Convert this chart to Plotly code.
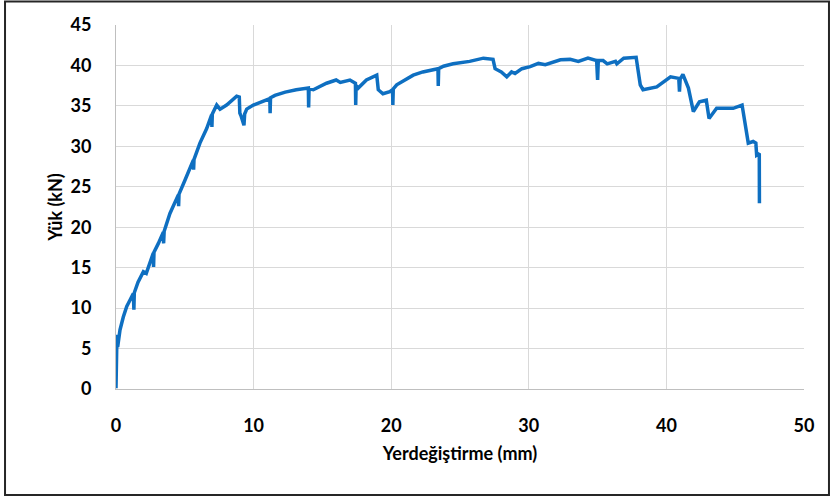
import plotly.graph_objects as go

# Displacement (mm) and load (kN)
displacement = [0.0, 0.02, 0.07, 0.12, 0.29, 0.53, 0.78, 1.02, 1.26, 1.3, 1.33, 1.6, 1.99, 2.2, 2.45,
                2.71, 2.73, 2.76, 3.08, 3.44, 3.46, 3.5, 3.92, 4.2, 4.53, 4.55, 4.58, 5.01, 5.3, 5.62,
                5.64, 5.67, 6.1, 6.59, 6.95, 6.97, 7.0, 7.32, 7.56, 8.04, 8.4, 8.77, 8.96, 9.0, 9.1,
                9.3, 9.35, 9.5, 9.98, 10.7, 11.18, 11.2, 11.23, 11.55, 12.3, 13.1, 13.98, 14.0, 14.03,
                14.34, 15.3, 16.0, 16.3, 17.0, 17.4, 17.42, 17.45, 17.6, 18.2, 18.95, 19.06, 19.4,
                19.9, 20.1, 20.12, 20.15, 20.4, 21.6, 22.3, 23.4, 23.42, 23.45, 23.8, 24.5, 25.7,
                26.7, 27.4, 27.55, 28.0, 28.4, 28.75, 29.0, 29.5, 30.1, 30.7, 31.2, 32.3, 33.0, 33.6,
                34.3, 34.93, 35.0, 35.05, 35.4, 35.7, 36.3, 36.4, 36.9, 37.8, 38.1, 38.3, 39.0, 39.3,
                40.3, 40.9, 40.95, 41.0, 41.2, 41.6, 41.96, 42.4, 42.9, 43.1, 43.65, 44.4, 44.85,
                45.5, 45.95, 46.3, 46.5, 46.56, 46.75, 46.76]
load = [0.1, 3.0, 6.7, 5.2, 7.3, 8.9, 10.2, 11.0, 11.8, 9.8, 11.9, 13.2, 14.5, 14.3, 15.5,
        16.8, 15.1, 16.9, 18.0, 19.4, 18.0, 19.5, 21.7, 22.8, 24.0, 22.6, 24.1, 25.8, 27.0, 28.3,
        27.1, 28.4, 30.4, 32.2, 33.9, 32.4, 34.0, 35.1, 34.6, 35.1, 35.6, 36.2, 36.1, 34.1, 33.7,
        32.6, 34.0, 34.6, 35.1, 35.6, 35.9, 34.1, 36.0, 36.3, 36.7, 37.0, 37.2, 34.8, 37.1,
        37.0, 37.8, 38.2, 37.9, 38.2, 37.8, 35.1, 37.5, 37.2, 38.2, 38.8, 37.0, 36.5,
        36.75, 37.0, 35.1, 37.1, 37.6, 38.8, 39.2, 39.6, 37.45, 39.6, 39.9, 40.2, 40.5,
        40.9, 40.75, 39.6, 39.2, 38.6, 39.2, 39.0, 39.6, 39.85, 40.25, 40.1, 40.7, 40.75, 40.5,
        40.9, 40.6, 38.2, 40.6, 40.6, 40.2, 40.5, 40.2, 40.9, 41.0, 37.6, 37.0, 37.2, 37.35,
        38.6, 38.4, 36.75, 38.3, 38.9, 37.2, 34.3, 35.5, 35.7, 33.45, 34.7, 34.7, 34.7,
        35.1, 30.4, 30.6, 30.4, 28.9, 29.1, 22.95]

x_ticks = [0, 10, 20, 30, 40, 50]
y_ticks = [0, 5, 10, 15, 20, 25, 30, 35, 40, 45]

fig = go.Figure()
fig.add_trace(go.Scatter(
    x=displacement, y=load, mode="lines",
    line=dict(color="#0E6FC1", width=3.5),
    showlegend=False, hoverinfo="skip",
))

font_family = "Lato, 'Open Sans', sans-serif"

fig.update_layout(
    width=833, height=499,
    margin=dict(l=116, r=29, t=25, b=110),
    paper_bgcolor="white", plot_bgcolor="white",
    font=dict(family=font_family, color="#000000"),
    xaxis=dict(
        range=[0, 50], tickvals=x_ticks, ticktext=[str(v) for v in x_ticks],
        showgrid=True, gridcolor="#D9D9D9", gridwidth=1,
        showline=True, linecolor="#BFBFBF", linewidth=1,
        zeroline=False, ticks="", ticklabelstandoff=20,
        tickfont=dict(size=18, family=font_family, weight="bold"),
        title=dict(text="<b>Yerdeğiştirme (mm)</b>", font=dict(size=18, family=font_family), standoff=12),
        fixedrange=True,
    ),
    yaxis=dict(
        range=[0, 45], tickvals=y_ticks, ticktext=[str(v) for v in y_ticks],
        showgrid=True, gridcolor="#D9D9D9", gridwidth=1,
        showline=True, linecolor="#BFBFBF", linewidth=1,
        zeroline=False, ticks="", ticklabelstandoff=20,
        tickfont=dict(size=18, family=font_family, weight="bold"),
        title=dict(text="<b>Yük (kN)</b>", font=dict(size=18, family=font_family), standoff=3),
        fixedrange=True,
    ),
)

# outer chart border
fig.add_shape(type="rect", xref="paper", yref="paper",
              x0=-0.1613, x1=1.0363, y0=-0.291, y1=1.0646,
              line=dict(color="#262626", width=2), fillcolor="rgba(0,0,0,0)", layer="below")

fig.write_html("out.html", config={"displayModeBar": False},
               post_script="document.body.style.margin='0';document.body.style.overflow='hidden';")
